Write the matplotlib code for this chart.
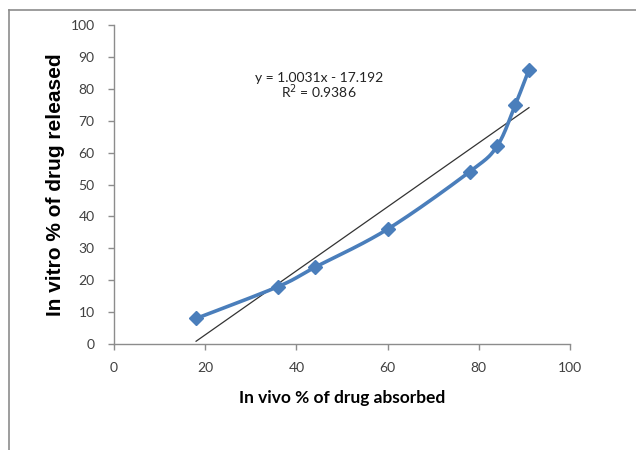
import numpy as np
import matplotlib
matplotlib.use("Agg")
import matplotlib.pyplot as plt
from matplotlib.lines import Line2D

in_vivo = [18, 36, 44, 60, 78, 84, 88, 91]
in_vitro = [8, 18, 24, 36, 54, 62, 75, 86]
x_ticks = [0, 20, 40, 60, 80, 100]
y_ticks = [0, 10, 20, 30, 40, 50, 60, 70, 80, 90, 100]
eq_text = "y = 1.0031x - 17.192"
r2_text = "R$^2$ = 0.9386"
x_label = "In vivo % of drug absorbed"
y_label = "In vitro % of drug released"


def catmull_rom(xs, ys, n=30):
    P = np.column_stack([xs, ys]).astype(float)
    P = np.vstack([P[0], P, P[-1]])
    out = []
    for i in range(1, len(P) - 2):
        p0, p1, p2, p3 = P[i - 1], P[i], P[i + 1], P[i + 2]
        c1 = p1 + (p2 - p0) / 6.0
        c2 = p2 - (p3 - p1) / 6.0
        t = np.linspace(0, 1, n)[:, None]
        seg = ((1 - t) ** 3) * p1 + 3 * ((1 - t) ** 2) * t * c1 + 3 * (1 - t) * t ** 2 * c2 + t ** 3 * p2
        out.append(seg if i == 1 else seg[1:])
    s = np.vstack(out)
    return s[:, 0], s[:, 1]


fig = plt.figure(figsize=(6.36, 4.5), dpi=100)
ax = fig.add_axes([114 / 636, 1 - 344 / 450, 456 / 636, 319 / 450])

blue = "#4A7EBB"
sx, sy = catmull_rom(in_vivo, in_vitro)
ax.plot(sx, sy, color=blue, lw=2.6, solid_capstyle="round", zorder=3)
ax.plot(in_vivo, in_vitro, linestyle="none", marker="D", markersize=7.5,
        color=blue, markeredgecolor=blue, zorder=4)

coef = np.polyfit(in_vivo, in_vitro, 1)
tx = np.array([min(in_vivo), max(in_vivo)])
ax.plot(tx, np.polyval(coef, tx), color="#333333", lw=0.9, zorder=2)

ax.set_xlim(0, 100)
ax.set_ylim(0, 100)
ax.set_xticks(x_ticks)
ax.set_yticks(y_ticks)
for sp in ["top", "right"]:
    ax.spines[sp].set_visible(False)
for sp in ["left", "bottom"]:
    ax.spines[sp].set_color("#8c8c8c")
    ax.spines[sp].set_linewidth(1.0)
ax.tick_params(axis="both", direction="out", length=4, width=1.0, color="#8c8c8c",
               labelsize=10, labelcolor="#404040")
ax.tick_params(axis="x", pad=9)
ax.tick_params(axis="y", pad=10)
for lab in ax.get_xticklabels() + ax.get_yticklabels():
    lab.set_family("Lato")

ax.set_xlabel(x_label, fontsize=12.5, fontweight="bold", family="Lato")
ax.xaxis.set_label_coords(0.5, -0.145)
ax.set_ylabel(y_label, fontsize=15, fontweight="bold", family="Liberation Sans")
ax.yaxis.set_label_coords(-(114 - 56) / 456, 0.5)
ax.yaxis.label.set_va("center")

ax.text(0.45, 0.835, eq_text, transform=ax.transAxes, ha="center", va="center",
        fontsize=10, family="Lato", color="#222222")
ax.text(0.45, 0.79, r2_text, transform=ax.transAxes, ha="center", va="center",
        fontsize=10, family="Lato", color="#222222")

border = "#8c8c8c"
fig.add_artist(Line2D([8.5 / 636, 8.5 / 636], [0, 1 - 9.5 / 450], transform=fig.transFigure,
                      color=border, lw=1.2))
fig.add_artist(Line2D([8.5 / 636, 1], [1 - 9.5 / 450, 1 - 9.5 / 450], transform=fig.transFigure,
                      color=border, lw=1.2))

fig.savefig("out.png", dpi=100)
